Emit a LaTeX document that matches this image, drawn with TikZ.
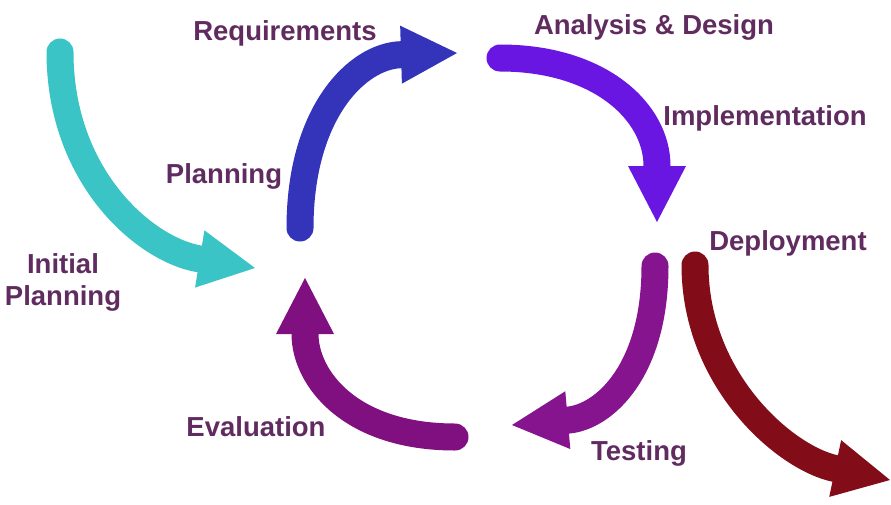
\documentclass[tikz,border=0pt]{standalone}
\usepackage{fontspec}
\setmainfont{Liberation Sans}
\usetikzlibrary{arrows.meta}
\definecolor{initcyan}{RGB}{58,196,198}
\definecolor{planblue}{RGB}{52,52,186}
\definecolor{designviolet}{RGB}{106,22,226}
\definecolor{testpurple}{RGB}{134,20,142}
\definecolor{evalpurple}{RGB}{128,16,128}
\definecolor{deployred}{RGB}{130,12,24}
\definecolor{labeltext}{RGB}{96,44,96}

\begin{document}
\begin{tikzpicture}[
  x=1pt,y=-1pt,
  font=\bfseries\fontsize{27.5}{32}\selectfont,
  lbl/.style={text=labeltext,align=center,inner sep=0pt},
  bigarr/.style={line width=27pt,line cap=round,-{Triangle[length=56pt,width=58pt,line width=0pt]}}
]
  \useasboundingbox (0,0) rectangle (891,504);

  % stage labels
  \node[lbl] (req) at (285,33) {Requirements};
  \node[lbl] (ad) at (654,27) {Analysis \& Design};
  \node[lbl] (impl) at (765,118) {Implementation};
  \node[lbl] (plan) at (224,176) {Planning};
  \node[lbl] (dep) at (788,243) {Deployment};
  \node[lbl] (init) at (63,282) {Initial\\Planning};
  \node[lbl] (eval) at (256,427) {Evaluation};
  \node[lbl] (test) at (639,453) {Testing};

  % arrow ends
  \coordinate (initS) at (60,52);   \coordinate (initE) at (255,268);
  \coordinate (planS) at (300,228); \coordinate (planE) at (457,53);
  \coordinate (desS) at (500,58);   \coordinate (desE) at (657,222);
  \coordinate (testS) at (655,266); \coordinate (testE) at (512,425);
  \coordinate (evalS) at (455,437); \coordinate (evalE) at (305,278);
  \coordinate (depS) at (695,265);  \coordinate (depE) at (890,480);

  \draw[bigarr,initcyan] (initS) .. controls +(0,125) and +(-110,-18) .. (initE);
  \draw[bigarr,planblue] (planS) .. controls +(0,-115) and +(-100,3) .. (planE);
  \draw[bigarr,designviolet] (desS) .. controls +(100,0) and +(0,-110) .. (desE);
  \draw[bigarr,testpurple] (testS) .. controls +(0,105) and +(92,-8) .. (testE);
  \draw[bigarr,evalpurple] (evalS) .. controls +(-105,0) and +(0,100) .. (evalE);
  \draw[bigarr,deployred] (depS) .. controls +(0,115) and +(-105,-22) .. (depE);
\end{tikzpicture}
\end{document}
